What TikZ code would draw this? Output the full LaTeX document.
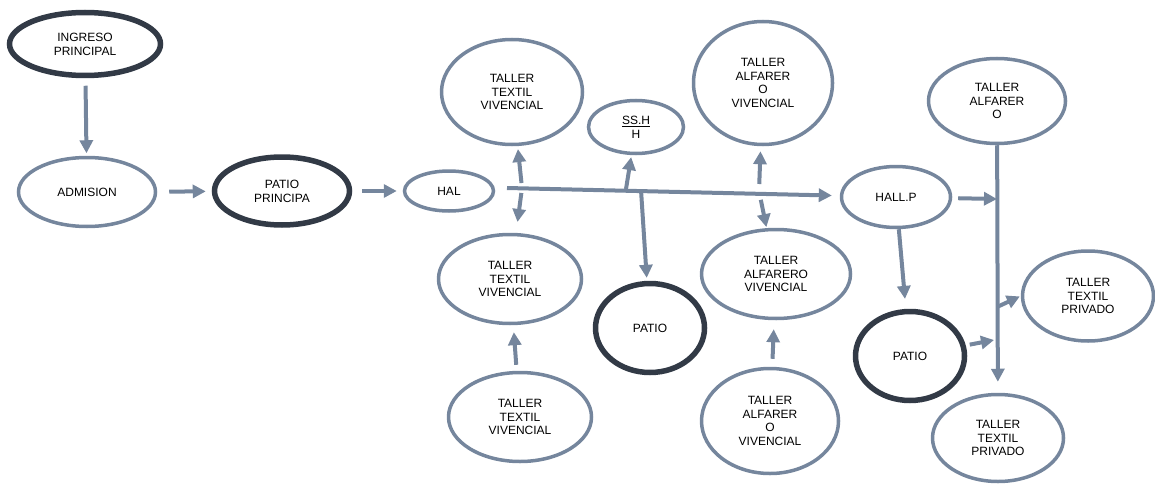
\documentclass[tikz,border=0pt]{standalone}
\usepackage{fontspec}
\setmainfont{Liberation Sans}
\usetikzlibrary{shapes.geometric,arrows.meta}
\definecolor{slateLine}{RGB}{117,134,157}
\definecolor{darkLine}{RGB}{50,58,70}
\tikzstyle{roomPart} = [ellipse, draw=slateLine, line width=3.5pt, inner sep=0pt, align=center, font=\fontsize{12}{13.8}\selectfont]
\tikzstyle{patioPart} = [roomPart, draw=darkLine, line width=5.5pt]
\tikzstyle{flowArrow} = [draw=slateLine, line width=4pt, -{Triangle[length=13pt,width=13pt]}]

\begin{document}
\begin{tikzpicture}[x=1pt, y=-1pt]
		\useasboundingbox (0,0) rectangle (1155,484);

		\node (ingreso) [patioPart, minimum width=151pt, minimum height=63pt] at (85,44) {INGRESO\\PRINCIPAL};
		\path (ingreso)+(2,148) node (admision) [roomPart, minimum width=137pt, minimum height=69pt] {ADMISION};
		\path (admision)+(195,-1) node (patioPrincipal) [patioPart, minimum width=135pt, minimum height=68pt] {PATIO\\PRINCIPA};
		\path (patioPrincipal)+(167,0) node (hal) [roomPart, minimum width=89pt, minimum height=40pt] {HAL};

		% Textil column
		\path (hal)+(63,-99) node (tallerTextilA) [roomPart, minimum width=141pt, minimum height=105pt] {TALLER\\TEXTIL\\VIVENCIAL};
		\path (tallerTextilA)+(-2,187) node (tallerTextilB) [roomPart, minimum width=143pt, minimum height=89pt] {TALLER\\TEXTIL\\VIVENCIAL};
		\path (tallerTextilB)+(10,138) node (tallerTextilC) [roomPart, minimum width=143pt, minimum height=89pt] {TALLER\\TEXTIL\\VIVENCIAL};

		\path (tallerTextilA)+(124,35) node (ssHH) [roomPart, minimum width=95pt, minimum height=53pt] {\underline{SS.H}\\H};
		\path (ssHH)+(14,201) node (patioB) [patioPart, minimum width=109pt, minimum height=89pt] {PATIO};

		% Alfarero column
		\path (ssHH)+(127,-44) node (tallerAlfareroA) [roomPart, minimum width=139pt, minimum height=123pt] {TALLER\\ALFARER\\O\\VIVENCIAL};
		\path (tallerAlfareroA)+(13,191) node (tallerAlfareroB) [roomPart, minimum width=149pt, minimum height=89pt] {TALLER\\ALFARERO\\VIVENCIAL};
		\path (tallerAlfareroB)+(-6,147) node (tallerAlfareroC) [roomPart, minimum width=137pt, minimum height=105pt] {TALLER\\ALFARER\\O\\VIVENCIAL};

		% Private part
		\path (hal)+(447,6) node (hallP) [roomPart, minimum width=109pt, minimum height=61pt] {HALL.P};
		\path (hallP)+(101,-96) node (tallerAlfareroR) [roomPart, minimum width=137pt, minimum height=85pt] {TALLER\\ALFARER\\O};
		\path (hallP)+(14,159) node (patioC) [patioPart, minimum width=109pt, minimum height=89pt] {PATIO};
		\path (patioC)+(178,-60) node (privadoA) [roomPart, minimum width=131pt, minimum height=90pt] {TALLER\\TEXTIL\\PRIVADO};
		\path (patioC)+(88,82) node (privadoB) [roomPart, minimum width=131pt, minimum height=87pt] {TALLER\\TEXTIL\\PRIVADO};

		% Helpers to locate arrows along the corridors
		\path (hal)+(58,-3) coordinate (halOut);
		\path (halOut)+(15,0) coordinate (textilJoin);
		\path (halOut)+(119,1) coordinate (sshhJoin);
		\path (halOut)+(134,2) coordinate (patioJoin);
		\path (halOut)+(252,3) coordinate (alfareroJoin);
		\path (hallP)+(101,2) coordinate (rightJoin);
		\path (patioC)+(84,-16) coordinate (patioCJoin);
		\path (privadoA)+(-91,11) coordinate (privadoJoin);

		\path [flowArrow, shorten <=7.5pt, shorten >=2.5pt] (ingreso) -- (admision);
		\path [flowArrow, shorten <=12pt, shorten >=6pt] (admision) -- (patioPrincipal);
		\path [flowArrow, shorten <=10pt, shorten >=6pt] (patioPrincipal) -- (hal);
		\path [flowArrow, shorten >=8pt] (halOut) -- (hallP);

		\path [flowArrow, shorten <=5pt, shorten >=3pt] (textilJoin) -- (tallerTextilA);
		\path [flowArrow, shorten <=5pt, shorten >=11pt] (textilJoin) -- (tallerTextilB);
		\path [flowArrow, shorten <=6pt, shorten >=7pt] (tallerTextilC) -- (tallerTextilB);
		\path [flowArrow, shorten >=2pt] (sshhJoin) -- (ssHH);
		\path [flowArrow, shorten >=3pt] (patioJoin) -- (patioB);

		\path [flowArrow, shorten <=7pt, shorten >=5pt] (alfareroJoin) -- (tallerAlfareroA);
		\path [flowArrow, shorten <=9pt, shorten >=1pt] (alfareroJoin) -- (tallerAlfareroB);
		\path [flowArrow, shorten <=8pt, shorten >=9pt] (tallerAlfareroC) -- (tallerAlfareroB);

		\path [flowArrow, shorten <=6pt] (hallP) -- (rightJoin);
		\path [flowArrow, shorten >=11pt] (tallerAlfareroR) -- (privadoB);
		\path [flowArrow, shorten >=10pt] (hallP) -- (patioC);
		\path [flowArrow, shorten <=4pt] (patioC) -- (patioCJoin);
		\path [flowArrow, shorten >=1pt] (privadoJoin) -- (privadoA.west);

	\end{tikzpicture}
\end{document}
